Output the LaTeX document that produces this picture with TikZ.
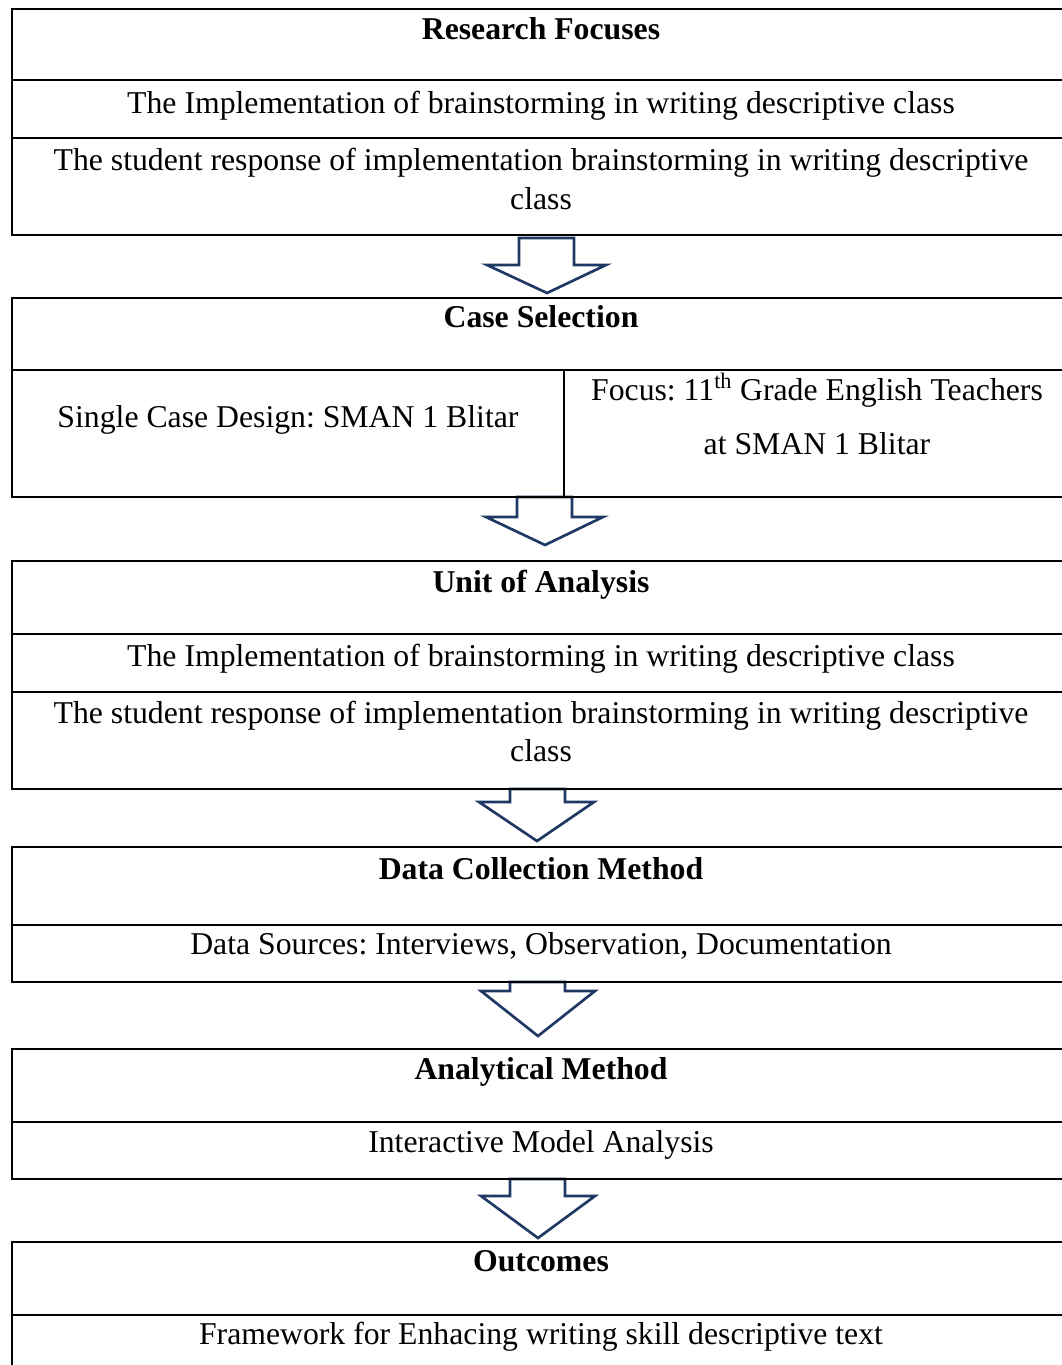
\documentclass[tikz,border=0pt]{standalone}
\usepackage{fontspec}
\setmainfont{Liberation Serif}
\definecolor{arrowblue}{RGB}{31,56,100}
\begin{document}
\frenchspacing
\begin{tikzpicture}[x=0.75pt,y=-0.75pt,
  boxline/.style={line width=2.2pt,black},
  blockarrow/.style={line width=2pt,draw=arrowblue,fill=white,line join=miter},
  txt/.style={font=\fontsize{23.8}{29}\selectfont,inner sep=0pt,text height=0.7em,text depth=0.22em},
  ttl/.style={txt,font=\fontsize{23.8}{29}\selectfont\bfseries}]
\useasboundingbox (0,0) rectangle (1062,1365);
\clip (0,0) rectangle (1062,1365);
% block arrows
\draw[blockarrow] (519,238) -- (519,265) -- (487,265) -- (547,293) -- (606,265) -- (574,265) -- (574,238) -- cycle;
\draw[blockarrow] (517,497) -- (517,517) -- (486,517) -- (545,545) -- (603,517) -- (572,517) -- (572,497) -- cycle;
\draw[blockarrow] (510,789) -- (510,802) -- (479,802) -- (537,841) -- (594,802) -- (565,802) -- (565,789) -- cycle;
\draw[blockarrow] (510,982) -- (510,991) -- (481,991) -- (538,1036) -- (595,991) -- (565,991) -- (565,982) -- cycle;
\draw[blockarrow] (510,1179) -- (510,1196) -- (481,1196) -- (538,1238) -- (595,1196) -- (565,1196) -- (565,1179) -- cycle;
% box 1
\draw[boxline] (12,9) rectangle (1070,235);
\draw[boxline] (12,80) -- (1070,80);
\draw[boxline] (12,138) -- (1070,138);
\node[ttl] (rf) at (541,36) {Research Focuses};
\node[txt] (rf1) at (541,110) {The Implementation of brainstorming in writing descriptive class};
\node[txt] (rf2) at (541,167) {The student response of implementation brainstorming in writing descriptive};
\node[txt] (rf3) at (541,206) {class};
% box 2
\draw[boxline] (12,298) rectangle (1070,497);
\draw[boxline] (12,370) -- (1070,370);
\draw[boxline] (564,370) -- (564,497);
\node[ttl] (cs) at (541,324) {Case Selection};
\node[txt] (cs1) at (288,424) {Single Case Design: SMAN 1 Blitar};
\node[txt] (cs2) at (817,397) {Focus: 11\textsuperscript{th} Grade English Teachers};
\node[txt] (cs3) at (817,451) {at SMAN 1 Blitar};
% box 3
\draw[boxline] (12,561) rectangle (1070,789);
\draw[boxline] (12,634) -- (1070,634);
\draw[boxline] (12,692) -- (1070,692);
\node[ttl] (ua) at (541,589) {Unit of Analysis};
\node[txt] (ua1) at (541,663) {The Implementation of brainstorming in writing descriptive class};
\node[txt] (ua2) at (541,720) {The student response of implementation brainstorming in writing descriptive};
\node[txt] (ua3) at (541,758) {class};
% box 4
\draw[boxline] (12,847) rectangle (1070,982);
\draw[boxline] (12,925) -- (1070,925);
\node[ttl] (dc) at (541,876) {Data Collection Method};
\node[txt] (dc1) at (541,951) {Data Sources: Interviews, Observation, Documentation};
% box 5
\draw[boxline] (12,1049) rectangle (1070,1179);
\draw[boxline] (12,1122) -- (1070,1122);
\node[ttl] (am) at (541,1076) {Analytical Method};
\node[txt] (am1) at (541,1149) {Interactive Model Analysis};
% box 6
\draw[boxline] (12,1400) -- (12,1242) -- (1070,1242);
\draw[boxline] (12,1315) -- (1070,1315);
\node[ttl] (oc) at (541,1268) {Outcomes};
\node[txt] (oc1) at (541,1341) {Framework for Enhacing writing skill descriptive text};
\end{tikzpicture}
\end{document}
